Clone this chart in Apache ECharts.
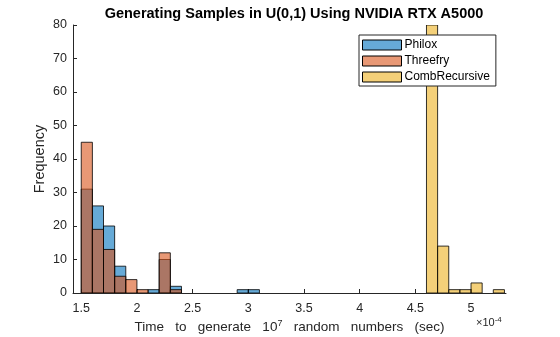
<!DOCTYPE html>
<html>
<head>
<meta charset="utf-8">
<script src="https://cdn.jsdelivr.net/npm/echarts@6/dist/echarts.min.js"></script>
<style>
  html, body { margin: 0; padding: 0; background: #fff; }
  #chart { width: 560px; height: 337px; }
</style>
</head>
<body>
<div id="chart"></div>
<script>
// bin starts are in units of 1e-4 s, every bin is 0.1e-4 s wide
var binWidth = 0.1;
var philoxStart = [1.5, 1.6, 1.7, 1.8, 2.1, 2.2, 2.3, 2.9, 3.0];
var philoxCount = [31, 26, 20, 8, 1, 10, 2, 1, 1];
var threefryStart = [1.5, 1.6, 1.7, 1.8, 1.9, 2.0, 2.2, 2.3];
var threefryCount = [45, 19, 13, 5, 4, 1, 12, 1];
var combStart = [4.6, 4.7, 4.8, 4.9, 5.0, 5.2];
var combCount = [80, 14, 1, 1, 3, 1];
var xTicks = [1.5, 2, 2.5, 3, 3.5, 4, 4.5, 5];

var font = 'Liberation Sans, Arial, sans-serif';
var ink = '#262626';

function pairs(starts, counts) {
  var out = [];
  for (var i = 0; i < starts.length; i++) out.push([starts[i], counts[i]]);
  return out;
}

function histSeries(name, color, starts, counts) {
  return {
    name: name,
    type: 'custom',
    clip: true,
    itemStyle: { color: color },
    data: pairs(starts, counts),
    renderItem: function (params, api) {
      var x0 = api.value(0), c = api.value(1);
      var p0 = api.coord([x0, 0]);
      var p1 = api.coord([x0 + binWidth, c]);
      return {
        type: 'rect',
        shape: { x: p0[0], y: p1[1], width: p1[0] - p0[0], height: p0[1] - p1[1] },
        style: { fill: color, stroke: '#000', lineWidth: 0.8 }
      };
    }
  };
}

var chart = echarts.init(document.getElementById('chart'), null, { renderer: 'canvas' });

var option = {
  animation: false,
  backgroundColor: '#fff',
  textStyle: { fontFamily: font },
  title: {
    text: 'Generating Samples in U(0,1) Using NVIDIA RTX A5000',
    left: 289,
    textAlign: 'center',
    top: 1,
    textStyle: { fontFamily: font, fontSize: 14.5, fontWeight: 'bold', color: '#000' }
  },
  legend: {
    orient: 'vertical',
    left: 359,
    top: 35,
    padding: [4, 6, 3, 3],
    itemGap: 4,
    itemWidth: 39,
    itemHeight: 10,
    icon: 'rect',
    backgroundColor: '#fff',
    borderColor: ink,
    borderWidth: 1,
    borderRadius: 0,
    itemStyle: { borderColor: '#000', borderWidth: 1 },
    textStyle: { fontFamily: font, fontSize: 12, color: '#000', padding: [0, 0, 0, -2] },
    data: ['Philox', 'Threefry', 'CombRecursive']
  },
  grid: { left: 73, top: 25, right: 54, bottom: 44, outerBoundsMode: 'none' },
  xAxis: {
    type: 'value',
    min: 1.426,
    max: 5.314,
    name: '{a|Time   to   generate   10}{s|7}{a|   random   numbers   (sec)}',
    nameLocation: 'middle',
    nameGap: 26,
    nameMoveOverlap: false,
    nameTextStyle: {
      rich: {
        a: { fontFamily: font, fontSize: 13.5, color: ink },
        s: { fontFamily: font, fontSize: 9, color: ink, padding: [0, 0, 7, 0] }
      }
    },
    axisLine: { show: true, lineStyle: { color: ink, width: 1 } },
    axisTick: { show: true, inside: true, length: 4, customValues: xTicks, lineStyle: { color: ink } },
    axisLabel: {
      customValues: xTicks,
      margin: 9,
      fontFamily: font,
      fontSize: 12.5,
      color: ink,
      formatter: function (v) { return String(v); }
    },
    splitLine: { show: false }
  },
  yAxis: {
    type: 'value',
    min: 0,
    max: 80,
    interval: 10,
    name: 'Frequency',
    nameLocation: 'middle',
    nameGap: 26,
    nameMoveOverlap: false,
    nameTextStyle: { fontFamily: font, fontSize: 14.5, color: ink },
    axisLine: { show: true, lineStyle: { color: ink, width: 1 } },
    axisTick: { show: true, inside: true, length: 4, lineStyle: { color: ink } },
    axisLabel: { margin: 6, fontFamily: font, fontSize: 12.5, color: ink },
    splitLine: { show: false }
  },
  graphic: [{
    type: 'text',
    left: 476,
    top: 316,
    style: {
      text: '{a|×10}{s|-4}',
      rich: {
        a: { fontFamily: font, fontSize: 11, fill: ink },
        s: { fontFamily: font, fontSize: 8, fill: ink, padding: [0, 0, 6, 0] }
      }
    }
  }],
  series: [
    histSeries('Philox', 'rgba(0,114,189,0.6)', philoxStart, philoxCount),
    histSeries('Threefry', 'rgba(217,83,25,0.6)', threefryStart, threefryCount),
    histSeries('CombRecursive', 'rgba(237,177,32,0.6)', combStart, combCount)
  ]
};

chart.setOption(option);
</script>
</body>
</html>
